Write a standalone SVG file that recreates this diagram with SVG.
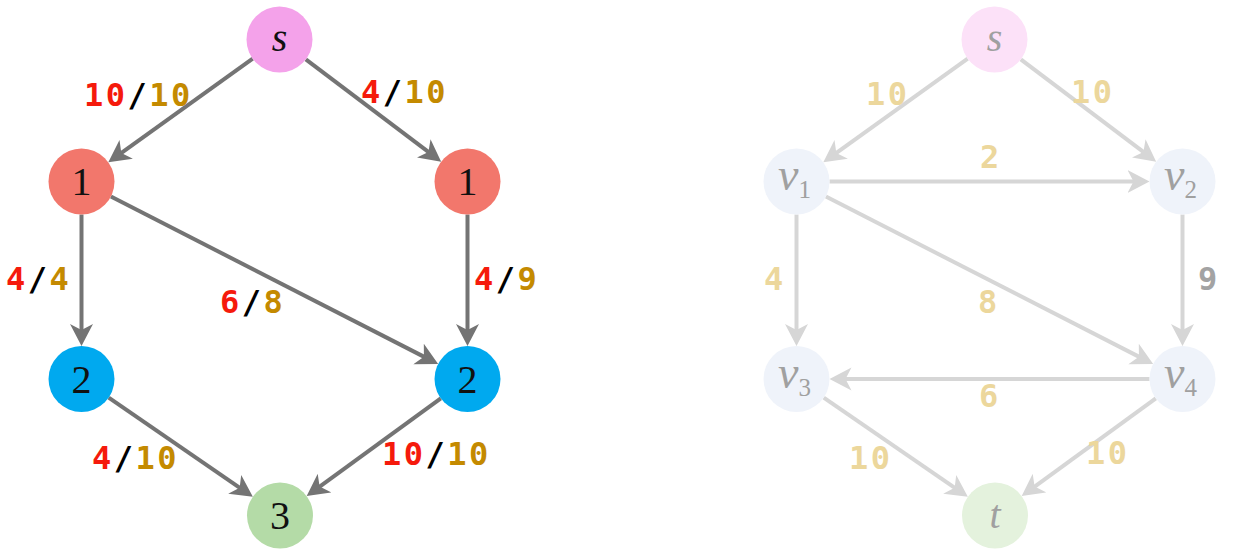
<svg xmlns="http://www.w3.org/2000/svg" width="1245" height="556" viewBox="0 0 1245 556">
<defs>
<style>
.ed{stroke:#747474;stroke-width:4;fill:none;marker-end:url(#ad)}
.el{stroke:#D6D6D6;stroke-width:4;fill:none;marker-end:url(#al)}
.lb{font-family:"DejaVu Sans Mono","Liberation Mono",monospace;font-weight:bold;font-size:32px;letter-spacing:2.5px}
.r{fill:#F51A0C}.k{fill:#000}.g{fill:#C48A00}
.lg{fill:#ECD79C}.gy{fill:#A3A3A3}
.nl{font-family:"Liberation Serif","DejaVu Serif",serif;font-size:40px;text-anchor:middle;fill:#111}
.nr{font-family:"Liberation Serif","DejaVu Serif",serif;font-size:46px;fill:#A0A0A0}
.sb{font-size:25px}
</style>
<marker id="ad" markerUnits="userSpaceOnUse" viewBox="0 -12 23 24" markerWidth="23" markerHeight="24" refX="8" refY="0" orient="auto">
<path d="M22,0 L0,-11.5 L6,0 L0,11.5 Z" fill="#747474"/>
</marker>
<marker id="al" markerUnits="userSpaceOnUse" viewBox="0 -12 23 24" markerWidth="23" markerHeight="24" refX="8" refY="0" orient="auto">
<path d="M22,0 L0,-11.5 L6,0 L0,11.5 Z" fill="#D6D6D6"/>
</marker>
</defs>
<rect width="1245" height="556" fill="#FFFFFF"/>

<g id="connectors">
<line class="ed" x1="252.7" y1="58.7" x2="119.7" y2="154.1"/>
<line class="ed" x1="305.8" y1="59.4" x2="430.0" y2="153.2"/>
<line class="ed" x1="81.5" y1="214.5" x2="81.5" y2="332"/>
<line class="ed" x1="467.5" y1="214.5" x2="467.5" y2="332"/>
<line class="ed" x1="110.9" y1="196.5" x2="425.7" y2="357.6"/>
<line class="ed" x1="108.7" y1="397.7" x2="241.3" y2="488.9"/>
<line class="ed" x1="440.8" y1="398.4" x2="318.0" y2="487.8"/>

<line class="el" x1="967.7" y1="58.7" x2="834.7" y2="154.1"/>
<line class="el" x1="1020.8" y1="59.4" x2="1145.0" y2="153.2"/>
<line class="el" x1="829.5" y1="181.5" x2="1135.5" y2="181.5"/>
<line class="el" x1="796.5" y1="214.5" x2="796.5" y2="332"/>
<line class="el" x1="825.9" y1="196.5" x2="1140.7" y2="357.6"/>
<line class="el" x1="1182.5" y1="214.5" x2="1182.5" y2="332"/>
<line class="el" x1="1149.5" y1="379" x2="843.5" y2="379"/>
<line class="el" x1="823.7" y1="397.7" x2="956.3" y2="488.9"/>
<line class="el" x1="1155.8" y1="398.4" x2="1033.0" y2="487.8"/>
</g>

<g id="edge-labels">
<text class="lb" x="84" y="106"><tspan class="r">10</tspan><tspan class="k">/</tspan><tspan class="g">10</tspan></text>
<text class="lb" x="361" y="103"><tspan class="r">4</tspan><tspan class="k">/</tspan><tspan class="g">10</tspan></text>
<text class="lb" x="6" y="290"><tspan class="r">4</tspan><tspan class="k">/</tspan><tspan class="g">4</tspan></text>
<text class="lb" x="474" y="290"><tspan class="r">4</tspan><tspan class="k">/</tspan><tspan class="g">9</tspan></text>
<text class="lb" x="220" y="313"><tspan class="r">6</tspan><tspan class="k">/</tspan><tspan class="g">8</tspan></text>
<text class="lb" x="92" y="469"><tspan class="r">4</tspan><tspan class="k">/</tspan><tspan class="g">10</tspan></text>
<text class="lb" x="382" y="465"><tspan class="r">10</tspan><tspan class="k">/</tspan><tspan class="g">10</tspan></text>

<text class="lb lg" x="866" y="105">10</text>
<text class="lb lg" x="1071" y="103">10</text>
<text class="lb lg" x="980" y="168">2</text>
<text class="lb lg" x="764" y="290">4</text>
<text class="lb gy" x="1198" y="290">9</text>
<text class="lb lg" x="978" y="313">8</text>
<text class="lb lg" x="979" y="407">6</text>
<text class="lb lg" x="849" y="469">10</text>
<text class="lb lg" x="1086" y="464">10</text>
</g>

<g id="node-s-left"><circle cx="279.5" cy="39.5" r="33" fill="#F4A2EA"/><text class="nl" x="279.5" y="51" font-style="italic">s</text></g>
<g id="node-1-left"><circle cx="81.5" cy="181.5" r="33" fill="#F2776C"/><text class="nl" x="81.5" y="195">1</text></g>
<g id="node-1-right"><circle cx="467.5" cy="181.5" r="33" fill="#F2776C"/><text class="nl" x="467.5" y="195">1</text></g>
<g id="node-2-left"><circle cx="81.5" cy="379" r="33" fill="#00A9EF"/><text class="nl" x="81.5" y="392.5">2</text></g>
<g id="node-2-right"><circle cx="467.5" cy="379" r="33" fill="#00A9EF"/><text class="nl" x="467.5" y="392.5">2</text></g>
<g id="node-3"><circle cx="280" cy="515.5" r="33" fill="#B4DBA7"/><text class="nl" x="280" y="529">3</text></g>

<g id="node-s"><circle cx="994.5" cy="39.5" r="33" fill="#FCE1F8"/><text class="nl" x="994.5" y="51" font-style="italic" style="fill:#A0A0A0">s</text></g>
<g id="node-v1"><circle cx="796.5" cy="181.5" r="33" fill="#EFF3FA"/><text class="nr" x="778" y="190"><tspan font-style="italic">v</tspan><tspan class="sb" dy="8">1</tspan></text></g>
<g id="node-v2"><circle cx="1182.5" cy="181.5" r="33" fill="#EFF3FA"/><text class="nr" x="1164" y="190"><tspan font-style="italic">v</tspan><tspan class="sb" dy="8">2</tspan></text></g>
<g id="node-v3"><circle cx="796.5" cy="379" r="33" fill="#EFF3FA"/><text class="nr" x="778" y="387.5"><tspan font-style="italic">v</tspan><tspan class="sb" dy="8">3</tspan></text></g>
<g id="node-v4"><circle cx="1182.5" cy="379" r="33" fill="#EFF3FA"/><text class="nr" x="1164" y="387.5"><tspan font-style="italic">v</tspan><tspan class="sb" dy="8">4</tspan></text></g>
<g id="node-t"><circle cx="995" cy="515.5" r="33" fill="#E4F2DD"/><text class="nl" x="995" y="528" font-style="italic" style="fill:#A0A0A0">t</text></g>
</svg>
